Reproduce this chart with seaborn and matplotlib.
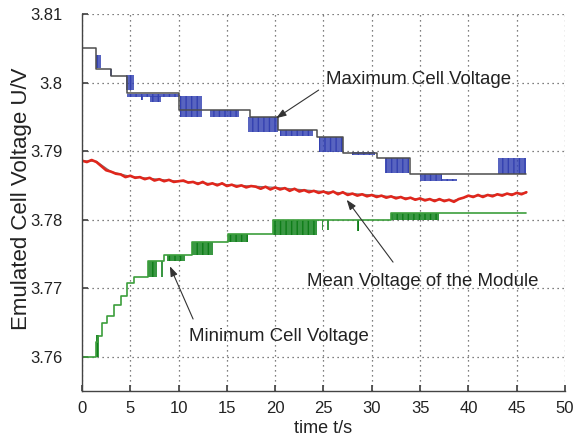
import numpy as np
import pandas as pd
import matplotlib
matplotlib.use("Agg")
import matplotlib.pyplot as plt
from matplotlib.ticker import FuncFormatter
import seaborn as sns

# ---------------- data ----------------
x_ticks = [0, 5, 10, 15, 20, 25, 30, 35, 40, 45, 50]
y_ticks = [3.76, 3.77, 3.78, 3.79, 3.80, 3.81]

# Maximum cell voltage: reference step line
max_ref_t = [0, 1.5, 3.0, 4.7, 10.0, 17.4, 20.3, 24.3, 27.0, 30.5, 34.0, 46.0]
max_ref_v = [3.805, 3.802, 3.801, 3.7985, 3.796, 3.7949, 3.7931, 3.792, 3.7897, 3.789, 3.7867, 3.7867]
# Maximum cell voltage: measured flicker regions (start, end, low, high)
max_band_start = [1.4, 2.9, 4.6, 4.7, 6.1, 7.0, 10.1, 13.2, 17.2, 20.5, 24.5, 28.0, 31.4, 35.0, 37.3, 43.1]
max_band_end   = [2.0, 3.1, 5.4, 10.0, 6.3, 8.2, 12.4, 16.3, 20.3, 23.9, 27.0, 30.3, 33.9, 37.3, 38.8, 46.0]
max_band_low   = [3.8021, 3.8010, 3.7989, 3.7979, 3.7975, 3.7972, 3.7950, 3.7950, 3.7928, 3.7922, 3.7899, 3.7894, 3.7868, 3.7856, 3.7856, 3.7867]
max_band_high  = [3.8040, 3.8020, 3.8011, 3.7983, 3.7981, 3.7981, 3.7981, 3.7960, 3.7949, 3.7931, 3.7920, 3.7899, 3.7890, 3.7867, 3.7859, 3.7890]

# Minimum cell voltage: reference step line
min_ref_t = [0, 1.45, 1.7, 2.1, 2.6, 3.3, 4.0, 4.7, 5.4, 6.8, 8.5, 11.4, 15.1, 19.8, 32.0, 46.0]
min_ref_v = [3.760, 3.7621, 3.7630, 3.7649, 3.7659, 3.7676, 3.7688, 3.7708, 3.7717, 3.7739, 3.7748,
             3.7768, 3.7779, 3.7800, 3.7809, 3.7809]
# Minimum cell voltage: measured flicker regions
min_band_start = [1.4, 6.8, 8.2, 8.8, 11.4, 15.1, 19.8, 24.8, 25.4, 28.5, 32.0]
min_band_end   = [1.75, 7.8, 8.35, 10.7, 13.6, 17.2, 24.3, 24.95, 25.55, 28.65, 37.0]
min_band_low   = [3.7600, 3.7717, 3.7717, 3.7739, 3.7748, 3.7768, 3.7778, 3.7785, 3.7785, 3.7784, 3.7800]
min_band_high  = [3.7632, 3.7739, 3.7739, 3.7749, 3.7768, 3.7779, 3.7800, 3.7800, 3.7800, 3.7800, 3.7809]

# Mean voltage of the module (sampled every 0.5 s)
mean_t = [i * 0.5 for i in range(93)]
mean_v = [3.7886, 3.7884, 3.7887, 3.7884, 3.7878, 3.7872, 3.7870, 3.7867, 3.7866, 3.7862,
          3.7864, 3.7861, 3.7862, 3.7859, 3.7861, 3.7857, 3.7859, 3.7856, 3.7858, 3.7855,
          3.7856, 3.7857, 3.7854, 3.7855, 3.7852, 3.7855, 3.7851, 3.7853, 3.7850, 3.7853,
          3.7849, 3.7851, 3.7848, 3.7850, 3.7847, 3.7849, 3.7848, 3.7845, 3.7848, 3.7844,
          3.7847, 3.7844, 3.7846, 3.7842, 3.7845, 3.7841, 3.7843, 3.7840, 3.7842, 3.7839,
          3.7841, 3.7838, 3.7841, 3.7837, 3.7840, 3.7836, 3.7838, 3.7835, 3.7837, 3.7834,
          3.7836, 3.7833, 3.7835, 3.7832, 3.7834, 3.7831, 3.7833, 3.7830, 3.7832, 3.7829,
          3.7831, 3.7828, 3.7830, 3.7827, 3.7830, 3.7827, 3.7829, 3.7826, 3.7830, 3.7832,
          3.7835, 3.7833, 3.7836, 3.7833, 3.7836, 3.7834, 3.7837, 3.7835, 3.7838, 3.7836,
          3.7839, 3.7837, 3.7840]
mean_ref_t = [0, 1.5, 3, 5, 10, 15, 20, 25, 30, 35, 38.5, 40, 46]
mean_ref_v = [3.7886, 3.7885, 3.7870, 3.7863, 3.7856, 3.7851, 3.7847, 3.7841, 3.7836, 3.7830, 3.7828, 3.7834, 3.7839]

labels = ["Maximum Cell Voltage", "Mean Voltage of the Module", "Minimum Cell Voltage"]

# ---------------- style ----------------
sns.set_theme(style="white")
plt.rcParams["font.family"] = ["Liberation Sans", "DejaVu Sans"]
plt.rcParams["hatch.linewidth"] = 1.0

BLUE = "#3441b0"
GREEN_DARK = "#0e7d18"
GREEN = "#3c9e3c"
RED = "#e0261c"
GREY = "#4d4d4d"
TXT = "#222222"

fig = plt.figure(figsize=(5.75, 4.4), dpi=100)
ax = fig.add_axes([0.1426, 0.1114, 0.8400, 0.8568])

# max: reference line then flicker bands
sns.lineplot(x=max_ref_t, y=max_ref_v, ax=ax, color=GREY, lw=1.1,
             drawstyle="steps-post", estimator=None, sort=False)
for s, e, lo, hi in zip(max_band_start, max_band_end, max_band_low, max_band_high):
    ax.fill_between([s, e], [lo, lo], [hi, hi], facecolor=(0.2, 0.26, 0.7, 0.82),
                    edgecolor=BLUE, hatch="|||", lw=0)

# min
sns.lineplot(x=min_ref_t, y=min_ref_v, ax=ax, color=GREEN, lw=1.2,
             drawstyle="steps-post", estimator=None, sort=False)
for s, e, lo, hi in zip(min_band_start, min_band_end, min_band_low, min_band_high):
    ax.fill_between([s, e], [lo, lo], [hi, hi], facecolor=(0.06, 0.5, 0.1, 0.82),
                    edgecolor=GREEN_DARK, hatch="|||", lw=0)

# mean
sns.lineplot(x=mean_ref_t, y=mean_ref_v, ax=ax, color="#777777", lw=0.9,
             estimator=None, sort=False)
sns.lineplot(x=mean_t, y=mean_v, ax=ax, color=RED, lw=1.9,
             estimator=None, sort=False)

# axes
ax.set_xlim(0, 50)
ax.set_ylim(3.755, 3.81)
ax.set_xticks(x_ticks)
ax.set_yticks(y_ticks)
ax.yaxis.set_major_formatter(FuncFormatter(lambda v, p: f"{v:g}"))
ax.grid(True, linestyle=(0, (1, 3)), color="#555555", lw=0.9)
for side in ["top", "right"]:
    ax.spines[side].set_visible(False)
for side in ["left", "bottom"]:
    ax.spines[side].set_color("#444444")
    ax.spines[side].set_linewidth(1.0)
ax.tick_params(direction="in", length=4, color="#444444", labelsize=12, labelcolor=TXT,
               left=True, bottom=True)
ax.tick_params(axis="y", pad=14)
ax.tick_params(axis="x", pad=7)
ax.set_xlabel("time t/s", fontsize=13, color=TXT, labelpad=3)
ax.set_ylabel("Emulated Cell Voltage U/V", fontsize=16, color=TXT)
ax.yaxis.set_label_coords(-0.104, 0.51)

arrow = dict(arrowstyle="-|>,head_length=0.5,head_width=0.18", color="#333333", lw=0.8,
             shrinkA=0, shrinkB=0)
ax.text(25.3, 3.8004, labels[0], fontsize=13.4, color=TXT, va="center", ha="left")
ax.annotate("", xy=(20.1, 3.7948), xytext=(24.5, 3.7989), arrowprops=arrow)
ax.text(23.3, 3.7710, labels[1], fontsize=13.4, color=TXT, va="center", ha="left")
ax.annotate("", xy=(27.4, 3.7829), xytext=(32.2, 3.7738), arrowprops=arrow)
ax.text(11.1, 3.7630, labels[2], fontsize=13.4, color=TXT, va="center", ha="left")
ax.annotate("", xy=(9.1, 3.7732), xytext=(11.5, 3.7655), arrowprops=arrow)

fig.savefig("out.png", dpi=100)
